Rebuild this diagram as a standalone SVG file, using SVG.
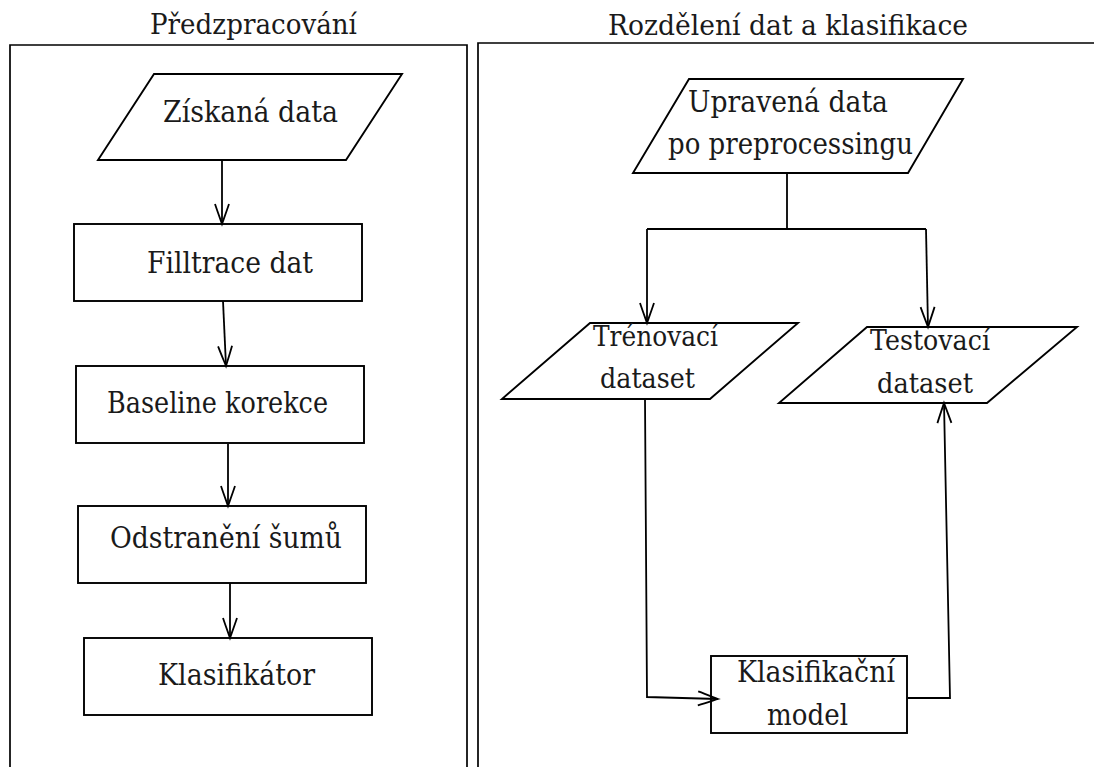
<svg xmlns="http://www.w3.org/2000/svg" width="1094" height="767" viewBox="0 0 1094 767">
  <style>
    .frame { fill: none; stroke: #000; stroke-width: 1.7; }
    .shape { fill: #fff; stroke: #000; stroke-width: 1.9; stroke-linejoin: miter; }
    .link { fill: none; stroke: #000; stroke-width: 1.8; }
    .t { font-family: "DejaVu Serif", "Liberation Serif", serif; fill: #1a1a1a; }
  </style>
  <defs>
    <marker id="arrow" markerUnits="userSpaceOnUse" markerWidth="30" markerHeight="20" viewBox="-24 -10 28 20" refX="0" refY="0" orient="auto">
      <path d="M-20,-7 C-11,-4 -3,-1 0,0 C-3,1 -11,4 -20,7" fill="none" stroke="#000" stroke-width="1.8"/>
    </marker>
  </defs>
  <rect width="1094" height="767" fill="#fff"/>

  <!-- panel frames and titles -->
  <g id="panel-preprocessing">
    <path class="frame" d="M10,780 V45 H467 V780"/>
    <text class="t" font-size="27" x="150" y="34" textLength="207" lengthAdjust="spacingAndGlyphs">Předzpracování</text>
  </g>
  <g id="panel-split">
    <path class="frame" d="M478,780 V43 H1100"/>
    <text class="t" font-size="27" x="608" y="35" textLength="360" lengthAdjust="spacingAndGlyphs">Rozdělení dat a klasifikace</text>
  </g>

  <!-- left column nodes -->
  <g id="ziskana-data">
    <polygon class="shape" points="154,74 402,74 346,160 98,160"/>
    <text class="t" font-size="30" x="163" y="122" textLength="175" lengthAdjust="spacingAndGlyphs">Získaná data</text>
  </g>
  <g id="filtrace">
    <rect class="shape" x="74" y="224" width="288" height="77"/>
    <text class="t" font-size="30" x="147" y="273" textLength="166" lengthAdjust="spacingAndGlyphs">Filltrace dat</text>
  </g>
  <g id="baseline">
    <rect class="shape" x="76" y="366" width="288" height="77"/>
    <text class="t" font-size="30" x="107" y="413" textLength="221" lengthAdjust="spacingAndGlyphs">Baseline korekce</text>
  </g>
  <g id="sumy">
    <rect class="shape" x="78" y="506" width="288" height="77"/>
    <text class="t" font-size="30" x="110" y="548" textLength="232" lengthAdjust="spacingAndGlyphs">Odstranění šumů</text>
  </g>
  <g id="klasifikator">
    <rect class="shape" x="84" y="638" width="288" height="77"/>
    <text class="t" font-size="30" x="158" y="685" textLength="157" lengthAdjust="spacingAndGlyphs">Klasifikátor</text>
  </g>

  <!-- right column nodes -->
  <g id="upravena-data">
    <polygon class="shape" points="689,79 963,79 908,173 633,173"/>
    <text class="t" font-size="30" x="688" y="112" textLength="200" lengthAdjust="spacingAndGlyphs">Upravená data</text>
    <text class="t" font-size="30" x="668" y="154" textLength="245" lengthAdjust="spacingAndGlyphs">po preprocessingu</text>
  </g>
  <g id="trenovaci">
    <polygon class="shape" points="590,323 798,323 710,399 502,399"/>
    <text class="t" font-size="27" x="593" y="346" textLength="125" lengthAdjust="spacingAndGlyphs">Trénovací</text>
    <text class="t" font-size="27" x="600" y="388" textLength="95" lengthAdjust="spacingAndGlyphs">dataset</text>
  </g>
  <g id="testovaci">
    <polygon class="shape" points="867,327 1077,327 987,403 779,403"/>
    <text class="t" font-size="27" x="870" y="350" textLength="120" lengthAdjust="spacingAndGlyphs">Testovací</text>
    <text class="t" font-size="27" x="877" y="393" textLength="96" lengthAdjust="spacingAndGlyphs">dataset</text>
  </g>
  <g id="model">
    <rect class="shape" x="711" y="656" width="196" height="77"/>
    <text class="t" font-size="30" x="737" y="682" textLength="158" lengthAdjust="spacingAndGlyphs">Klasifikační</text>
    <text class="t" font-size="30" x="767" y="725" textLength="81" lengthAdjust="spacingAndGlyphs">model</text>
  </g>

  <!-- connectors -->
  <g id="connectors">
    <path class="link" d="M222,160 L222,224" marker-end="url(#arrow)"/>
    <path class="link" d="M223,301 L226,366" marker-end="url(#arrow)"/>
    <path class="link" d="M228,444 L228,506" marker-end="url(#arrow)"/>
    <path class="link" d="M230,583 L230,638" marker-end="url(#arrow)"/>

    <path class="link" d="M787,173 V229 M647,229 H926"/>
    <path class="link" d="M647,229 L647,323" marker-end="url(#arrow)"/>
    <path class="link" d="M926,229 L928,327" marker-end="url(#arrow)"/>
    <path class="link" d="M645,399 L647,697 L718,699" marker-end="url(#arrow)"/>
    <path class="link" d="M908,698 H950 L944,403" marker-end="url(#arrow)"/>
  </g>
</svg>
